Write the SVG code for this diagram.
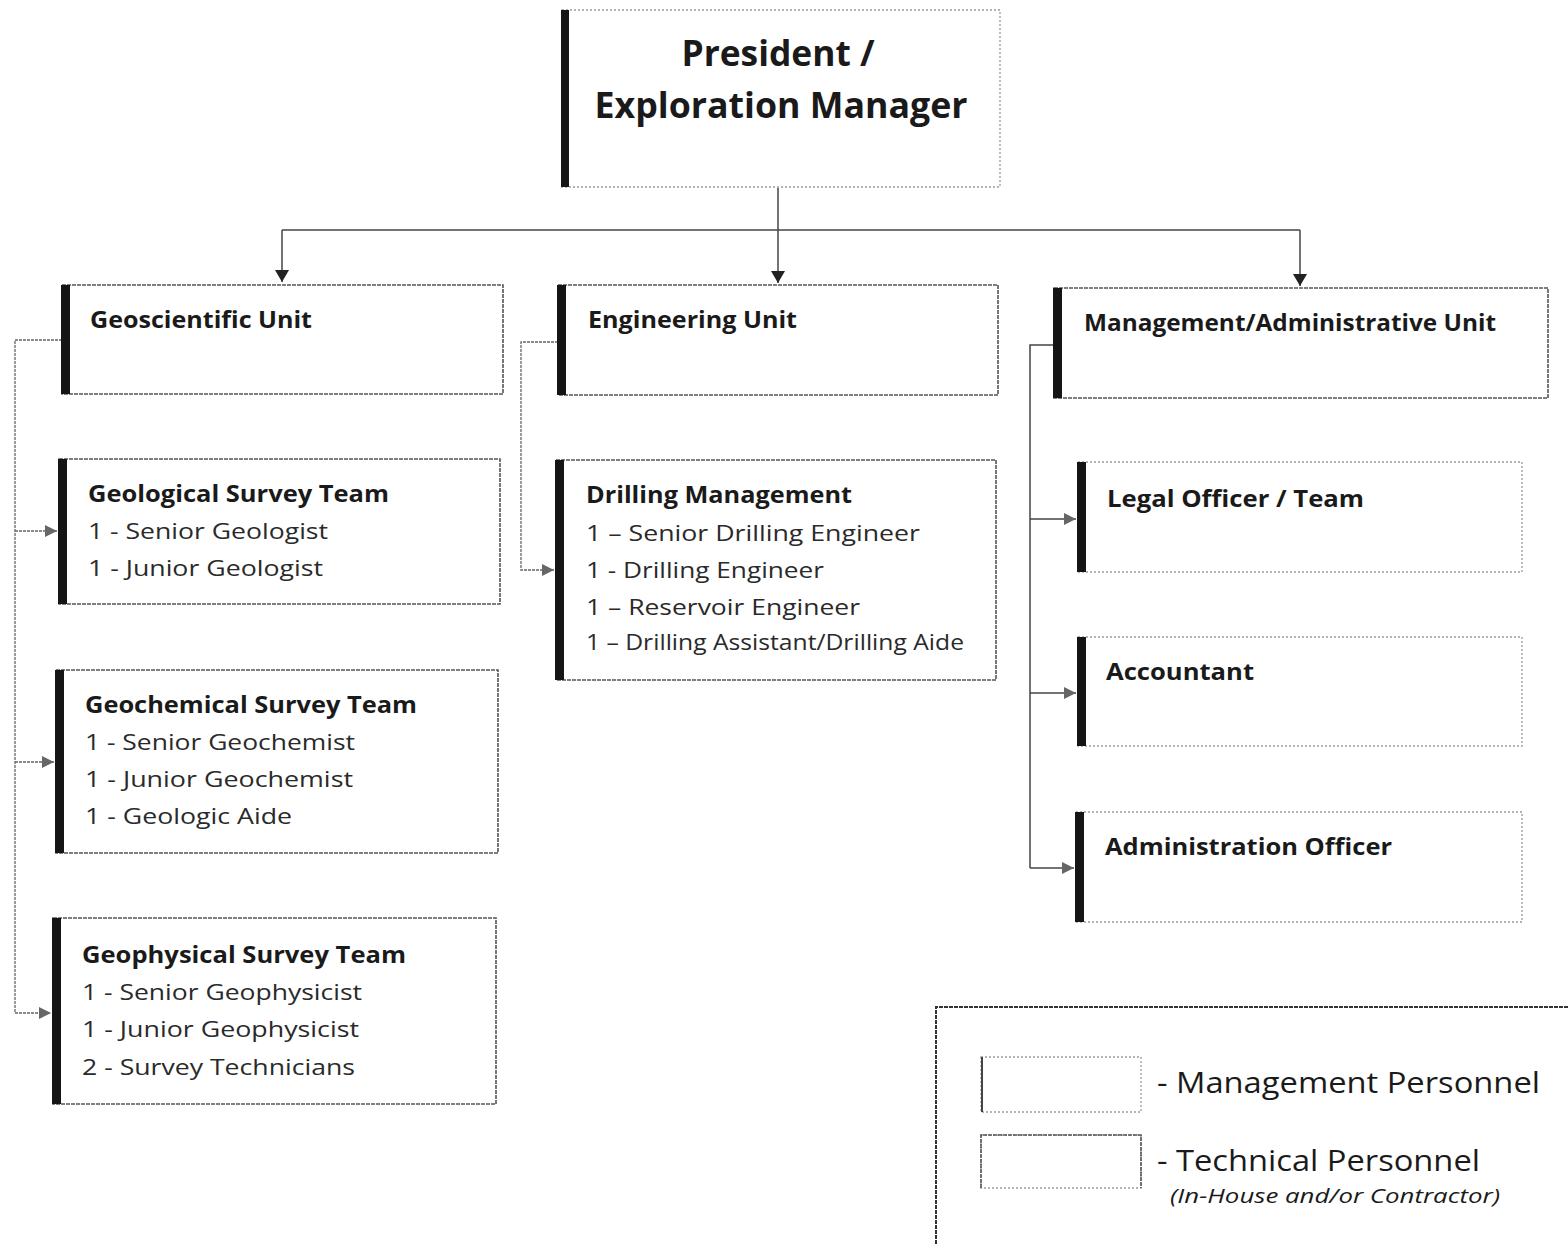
<svg xmlns="http://www.w3.org/2000/svg" width="1568" height="1244" viewBox="0 0 1568 1244">
<defs>
<style>
.mg{fill:#fff;stroke:#9a9a9a;stroke-width:1.3;stroke-dasharray:2 2}
.tc{fill:#fff;stroke:#555;stroke-width:1.6;stroke-dasharray:4 1}
.bar{fill:#151515}
.t{font-family:"Open Sans","Liberation Sans",sans-serif;fill:#1a1a1a}
.h{font-weight:bold;font-size:23px}
.i{font-size:22px;fill:#2a2a2a}
.ln{fill:none;stroke:#444;stroke-width:1.5}
.lt{fill:none;stroke:#666;stroke-width:1.3;stroke-dasharray:3 1}
</style>
<marker id="ad" markerWidth="14" markerHeight="14" refX="12" refY="7" orient="auto" markerUnits="userSpaceOnUse">
<path d="M0,0 L12,7 L0,14 Z" fill="#222"/>
</marker>
<marker id="ag" markerWidth="14" markerHeight="14" refX="12" refY="7" orient="auto" markerUnits="userSpaceOnUse">
<path d="M0,1 L12,7 L0,13 Z" fill="#666"/>
</marker>
</defs>
<rect width="1568" height="1244" fill="#fff"/>

<g id="connectors">
<path class="ln" d="M778,188 V230"/>
<path class="ln" d="M282,230 H1300"/>
<path class="ln" d="M282,230 V282" marker-end="url(#ad)"/>
<path class="ln" d="M778,230 V283" marker-end="url(#ad)"/>
<path class="ln" d="M1300,230 V286" marker-end="url(#ad)"/>
<path class="lt" d="M62,340 H15 V1013"/>
<path class="lt" d="M15,531 H57" marker-end="url(#ag)"/>
<path class="lt" d="M15,762 H54" marker-end="url(#ag)"/>
<path class="lt" d="M15,1013 H51" marker-end="url(#ag)"/>
<path class="lt" d="M558,342 H521 V570 H554" marker-end="url(#ag)"/>
<path class="ln" d="M1054,345 H1030 V868"/>
<path class="ln" d="M1030,519 H1076" marker-end="url(#ag)"/>
<path class="ln" d="M1030,693 H1076" marker-end="url(#ag)"/>
<path class="ln" d="M1030,868 H1074" marker-end="url(#ag)"/>
</g>

<g id="president">
<rect class="mg" x="562" y="10" width="438" height="177"/>
<rect class="bar" x="561" y="10" width="8" height="177"/>
<text class="t" x="778" y="66" text-anchor="middle" font-weight="bold" font-size="35" textLength="193" lengthAdjust="spacingAndGlyphs">President /</text>
<text class="t" x="781" y="118" text-anchor="middle" font-weight="bold" font-size="35" textLength="373" lengthAdjust="spacingAndGlyphs">Exploration Manager</text>
</g>

<g id="geoscientific-unit">
<rect class="tc" x="62" y="285" width="441" height="109"/>
<rect class="bar" x="61" y="285" width="9" height="109"/>
<text class="t h" x="90" y="328" textLength="222" lengthAdjust="spacingAndGlyphs">Geoscientific Unit</text>
</g>

<g id="engineering-unit">
<rect class="tc" x="558" y="285" width="440" height="110"/>
<rect class="bar" x="557" y="285" width="9" height="110"/>
<text class="t h" x="588" y="328" textLength="209" lengthAdjust="spacingAndGlyphs">Engineering Unit</text>
</g>

<g id="management-unit">
<rect class="tc" x="1054" y="288" width="494" height="110"/>
<rect class="bar" x="1053" y="288" width="9" height="110"/>
<text class="t h" x="1084" y="331" textLength="412" lengthAdjust="spacingAndGlyphs">Management/Administrative Unit</text>
</g>

<g id="geological-team">
<rect class="tc" x="59" y="459" width="441" height="145"/>
<rect class="bar" x="58" y="459" width="9" height="145"/>
<text class="t h" x="88" y="502" textLength="301" lengthAdjust="spacingAndGlyphs">Geological Survey Team</text>
<text class="t i" x="88" y="539" textLength="240" lengthAdjust="spacingAndGlyphs">1 - Senior Geologist</text>
<text class="t i" x="88" y="576" textLength="235" lengthAdjust="spacingAndGlyphs">1 - Junior Geologist</text>
</g>

<g id="geochemical-team">
<rect class="tc" x="56" y="670" width="442" height="183"/>
<rect class="bar" x="55" y="670" width="9" height="183"/>
<text class="t h" x="85" y="713" textLength="332" lengthAdjust="spacingAndGlyphs">Geochemical Survey Team</text>
<text class="t i" x="85" y="750" textLength="270" lengthAdjust="spacingAndGlyphs">1 - Senior Geochemist</text>
<text class="t i" x="85" y="787" textLength="268" lengthAdjust="spacingAndGlyphs">1 - Junior Geochemist</text>
<text class="t i" x="85" y="824" textLength="207" lengthAdjust="spacingAndGlyphs">1 - Geologic Aide</text>
</g>

<g id="geophysical-team">
<rect class="tc" x="53" y="918" width="443" height="186"/>
<rect class="bar" x="52" y="918" width="9" height="186"/>
<text class="t h" x="82" y="963" textLength="324" lengthAdjust="spacingAndGlyphs">Geophysical Survey Team</text>
<text class="t i" x="82" y="1000" textLength="280" lengthAdjust="spacingAndGlyphs">1 - Senior Geophysicist</text>
<text class="t i" x="82" y="1037" textLength="277" lengthAdjust="spacingAndGlyphs">1 - Junior Geophysicist</text>
<text class="t i" x="82" y="1075" textLength="273" lengthAdjust="spacingAndGlyphs">2 - Survey Technicians</text>
</g>

<g id="drilling-management">
<rect class="tc" x="556" y="460" width="440" height="220"/>
<rect class="bar" x="555" y="460" width="9" height="220"/>
<text class="t h" x="586" y="503" textLength="266" lengthAdjust="spacingAndGlyphs">Drilling Management</text>
<text class="t i" x="586" y="541" textLength="334" lengthAdjust="spacingAndGlyphs">1 – Senior Drilling Engineer</text>
<text class="t i" x="586" y="578" textLength="238" lengthAdjust="spacingAndGlyphs">1 - Drilling Engineer</text>
<text class="t i" x="586" y="615" textLength="274" lengthAdjust="spacingAndGlyphs">1 – Reservoir Engineer</text>
<text class="t i" x="586" y="650" textLength="378" lengthAdjust="spacingAndGlyphs">1 – Drilling Assistant/Drilling Aide</text>
</g>

<g id="legal-officer">
<rect class="mg" x="1078" y="462" width="444" height="110"/>
<rect class="bar" x="1077" y="462" width="9" height="110"/>
<text class="t h" x="1107" y="507" textLength="257" lengthAdjust="spacingAndGlyphs">Legal Officer / Team</text>
</g>

<g id="accountant">
<rect class="mg" x="1078" y="637" width="444" height="109"/>
<rect class="bar" x="1077" y="637" width="9" height="109"/>
<text class="t h" x="1106" y="680" textLength="148" lengthAdjust="spacingAndGlyphs">Accountant</text>
</g>

<g id="administration-officer">
<rect class="mg" x="1076" y="812" width="446" height="110"/>
<rect class="bar" x="1075" y="812" width="9" height="110"/>
<text class="t h" x="1105" y="855" textLength="287" lengthAdjust="spacingAndGlyphs">Administration Officer</text>
</g>

<g id="legend">
<path d="M936,1244 V1007 H1568" fill="none" stroke="#333" stroke-width="2" stroke-dasharray="4 1"/>
<rect class="mg" x="981" y="1057" width="160" height="55"/>
<path d="M982,1057 V1112" stroke="#444" stroke-width="2"/>
<rect class="mg" x="981" y="1135" width="160" height="53"/>
<path d="M981,1188 V1135 H1141 V1188" fill="none" stroke="#555" stroke-width="1.6" stroke-dasharray="4 1"/>
<text class="t" x="1157" y="1093" font-size="30" textLength="383" lengthAdjust="spacingAndGlyphs">- Management Personnel</text>
<text class="t" x="1157" y="1171" font-size="30" textLength="323" lengthAdjust="spacingAndGlyphs">- Technical Personnel</text>
<text class="t" x="1170" y="1203" font-size="20" font-style="italic" textLength="330" lengthAdjust="spacingAndGlyphs">(In-House and/or Contractor)</text>
</g>
</svg>
